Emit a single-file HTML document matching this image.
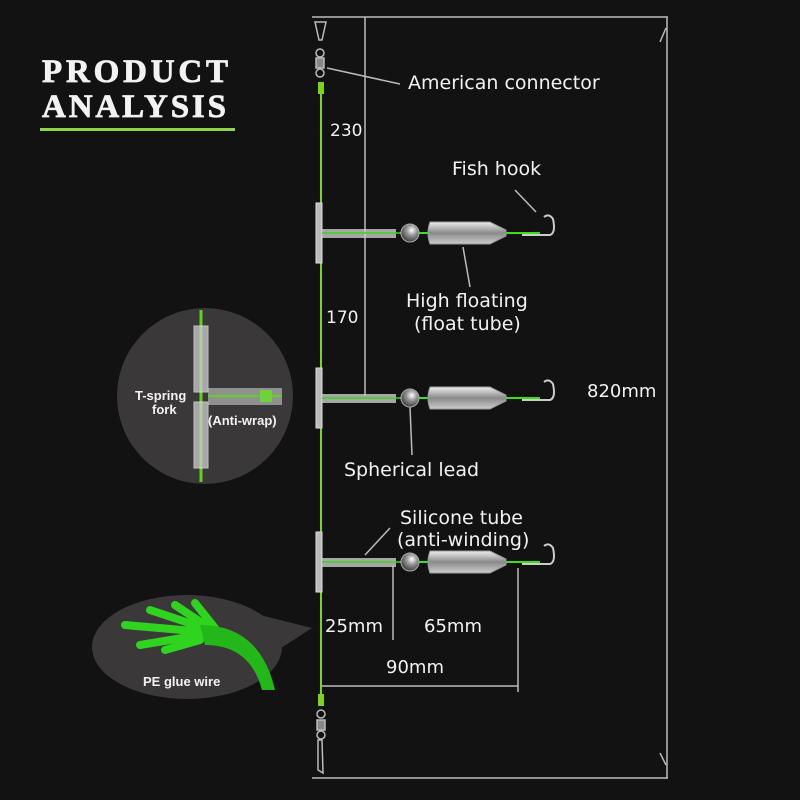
<!DOCTYPE html>
<html><head><meta charset="utf-8"><style>
html,body{margin:0;padding:0;background:#121212;}
svg{display:block}
text{font-family:"DejaVu Sans","Liberation Sans",sans-serif;fill:#f2f2f2;}
</style></head><body>
<svg width="800" height="800" viewBox="0 0 800 800" xmlns="http://www.w3.org/2000/svg">
<defs>
<linearGradient id="tube" x1="0" y1="0" x2="0" y2="1">
<stop offset="0" stop-color="#eee"/><stop offset="0.5" stop-color="#8a8a8a"/><stop offset="1" stop-color="#ccc"/></linearGradient>
<radialGradient id="ball" cx="0.6" cy="0.35" r="0.7"><stop offset="0" stop-color="#fff"/><stop offset="0.4" stop-color="#999"/><stop offset="1" stop-color="#333"/></radialGradient>
<g id="rig">
  <rect x="316" y="-30" width="6" height="60" fill="#bbb" stroke="#ddd" stroke-width="1"/>
  <rect x="322" y="-4" width="74" height="9" fill="#ccc" opacity="0.8"/>
  <line x1="322" y1="0" x2="400" y2="0" stroke="#39d61a" stroke-width="1.5"/>
  <line x1="400" y1="0" x2="540" y2="0" stroke="#39e01a" stroke-width="2"/>
  <circle cx="410" cy="0" r="9" fill="url(#ball)" stroke="#aaa"/>
  <path d="M430 -11 H490 L506 -3 V3 L490 11 H430 Q426 0 430 -11Z" fill="url(#tube)" stroke="#999"/>
  <path d="M522 2 H550 Q556 0 553 -14 Q549 -20 544 -16" fill="none" stroke="#ccc" stroke-width="2"/>
</g>
</defs>
<text x="42" y="82" font-weight="bold" font-size="33" letter-spacing="2" stroke="#f2f2f2" stroke-width="0.8" textLength="188" style="font-family:'Liberation Serif',serif">PRODUCT</text>
<text x="42" y="117" font-weight="bold" font-size="33" letter-spacing="2" stroke="#f2f2f2" stroke-width="0.8" textLength="186" style="font-family:'Liberation Serif',serif">ANALYSIS</text>
<rect x="40" y="128" width="195" height="3" fill="#8fd44a"/>
<g stroke="#bbb" stroke-width="1.5" fill="none">
<line x1="312" y1="17" x2="668" y2="17"/>
<line x1="312" y1="778" x2="668" y2="778"/>
<line x1="667" y1="17" x2="667" y2="778"/>
<line x1="365" y1="17" x2="365" y2="396"/>
<line x1="327" y1="68" x2="400" y2="84"/>
<line x1="322" y1="686" x2="518" y2="686"/>
<line x1="518" y1="568" x2="518" y2="692"/>
<line x1="393" y1="566" x2="393" y2="640"/>
<line x1="536" y1="212" x2="515" y2="190"/>
<line x1="463" y1="247" x2="470" y2="287"/>
<line x1="410" y1="407" x2="412" y2="455"/>
<line x1="365" y1="555" x2="390" y2="528"/>
<line x1="660" y1="42" x2="666" y2="28"/><line x1="660" y1="753" x2="666" y2="765"/>
</g>
<line x1="321" y1="88" x2="321" y2="700" stroke="#7ed321" stroke-width="2"/>
<rect x="318" y="82" width="6" height="12" fill="#7ed321"/>
<rect x="318" y="694" width="6" height="12" fill="#7ed321"/>
<g stroke="#bbb" stroke-width="1.5" fill="none">
<path d="M315 22 L326 22 L322 40 L319 40 Z"/><circle cx="320" cy="53" r="4"/>
<rect x="316" y="58" width="8" height="10" fill="#888"/><circle cx="320" cy="73" r="4"/>
<circle cx="321" cy="714" r="4"/><rect x="317" y="720" width="8" height="10" fill="#888"/><circle cx="321" cy="735" r="4"/>
<path d="M318 740 L322 740 L323 773 L318 770 Z"/>
</g>
<use href="#rig" transform="translate(0,233)"/>
<use href="#rig" transform="translate(0,398)"/>
<use href="#rig" transform="translate(0,562)"/>
<text x="408" y="89" font-size="19">American connector</text>
<text x="330" y="136" font-size="17">230</text>
<text x="452" y="175" font-size="19">Fish hook</text>
<text x="406" y="307" font-size="19">High floating</text>
<text x="414" y="330" font-size="19">(float tube)</text>
<text x="326" y="323" font-size="17">170</text>
<text x="587" y="397" font-size="18">820mm</text>
<text x="344" y="476" font-size="19">Spherical lead</text>
<text x="400" y="524" font-size="19">Silicone tube</text>
<text x="397" y="546" font-size="19">(anti-winding)</text>
<text x="325" y="632" font-size="18">25mm</text>
<text x="424" y="632" font-size="18">65mm</text>
<text x="386" y="673" font-size="18">90mm</text>
<circle cx="205" cy="396" r="88" fill="#3a3838"/>
<line x1="201" y1="310" x2="201" y2="482" stroke="#5ed21c" stroke-width="3"/>
<rect x="194" y="326" width="14" height="66" fill="#ccc" opacity="0.75" stroke="#eee"/>
<rect x="194" y="402" width="14" height="66" fill="#ccc" opacity="0.75" stroke="#eee"/>
<rect x="208" y="388" width="74" height="17" fill="#ccc" opacity="0.6"/>
<line x1="208" y1="396" x2="282" y2="396" stroke="#5ed21c" stroke-width="2"/>
<rect x="260" y="390" width="12" height="12" fill="#6ed33a"/>
<text x="135" y="400" font-size="13" font-weight="bold" style="font-family:'Liberation Sans',sans-serif">T-spring</text>
<text x="152" y="414" font-size="13" font-weight="bold" style="font-family:'Liberation Sans',sans-serif">fork</text>
<text x="208" y="425" font-size="13" font-weight="bold" style="font-family:'Liberation Sans',sans-serif">(Anti-wrap)</text>
<path d="M260 615 L312 628 L278 650 Z" fill="#3a3838"/>
<ellipse cx="187" cy="647" rx="95" ry="52" fill="#3a3838"/>
<g fill="none" stroke="#2ed41e" stroke-width="8" stroke-linecap="round">
<path d="M125 625 L205 632"/><path d="M150 610 L210 630"/><path d="M175 605 L205 625"/>
<path d="M195 603 L215 628"/><path d="M140 645 L200 635"/><path d="M165 650 L200 640"/>
</g>
<path d="M200 625 Q260 625 275 690 L262 690 Q250 645 205 645 Z" fill="#22b81a"/>
<text x="143" y="686" font-size="13" font-weight="bold" style="font-family:'Liberation Sans',sans-serif">PE glue wire</text>
</svg>
</body></html>
